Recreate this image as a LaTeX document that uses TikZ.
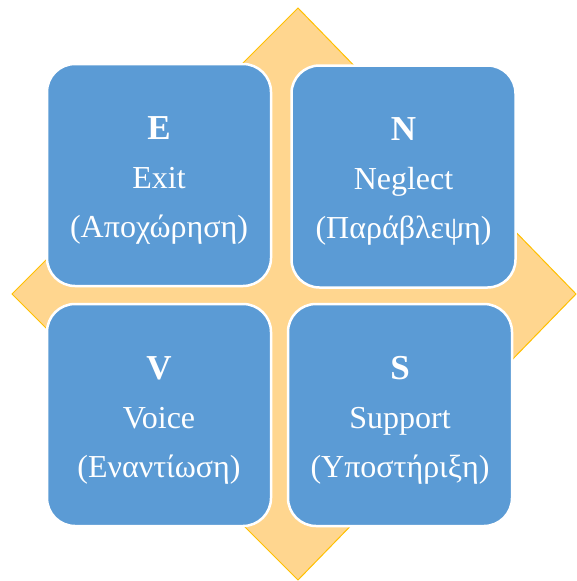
\documentclass[tikz,border=0pt]{standalone}
\usepackage{fontspec}
\setmainfont{Liberation Serif}
\definecolor{boxblue}{HTML}{5B9BD5}
\definecolor{diafill}{HTML}{FFD68F}
\definecolor{diaedge}{HTML}{FFC000}
\tikzset{
  quad/.style={rectangle, rounded corners=28pt, minimum width=224pt, minimum height=222pt,
    fill=boxblue, draw=white, line width=2.5pt, inner sep=0pt},
  big/.style={anchor=base, text=white, font=\fontsize{35}{40}\selectfont\bfseries, inner sep=0pt},
  mid/.style={anchor=base, text=white, font=\fontsize{32}{35}\selectfont, inner sep=0pt}
}
\begin{document}
\begin{tikzpicture}[x=1pt,y=-1pt]
\useasboundingbox (0,0) rectangle (576,581);
\coordinate (dt) at (298,8);
\coordinate (dl) at (12,294);
\coordinate (db) at (298,580);
\coordinate (dr) at (576,294);
\fill[diafill, draw=diaedge, line width=1pt, line join=miter] (dt) -- (dr) -- (db) -- (dl) -- cycle;

\node[quad] (E) at (159,175) {};
\node[quad] (N) at (403.5,176.5) {};
\node[quad] (V) at (159,415) {};
\node[quad] (S) at (400,415) {};

\node[big] (E1) at ([yshift=36]E.center) {E};
\node[mid] (E2) at ([yshift=-13]E.center) {Exit};
\node[mid] (E3) at ([yshift=-62]E.center) {(Αποχώρηση)};

\node[big] (N1) at ([yshift=36]N.center) {N};
\node[mid] (N2) at ([yshift=-13]N.center) {Neglect};
\node[mid] (N3) at ([yshift=-62]N.center) {(Παράβλεψη)};

\node[big] (V1) at ([yshift=36]V.center) {V};
\node[mid] (V2) at ([yshift=-13]V.center) {Voice};
\node[mid] (V3) at ([yshift=-62]V.center) {(Εναντίωση)};

\node[big] (S1) at ([yshift=36]S.center) {S};
\node[mid] (S2) at ([yshift=-13]S.center) {Support};
\node[mid] (S3) at ([yshift=-62]S.center) {(Υποστήριξη)};
\end{tikzpicture}
\end{document}
